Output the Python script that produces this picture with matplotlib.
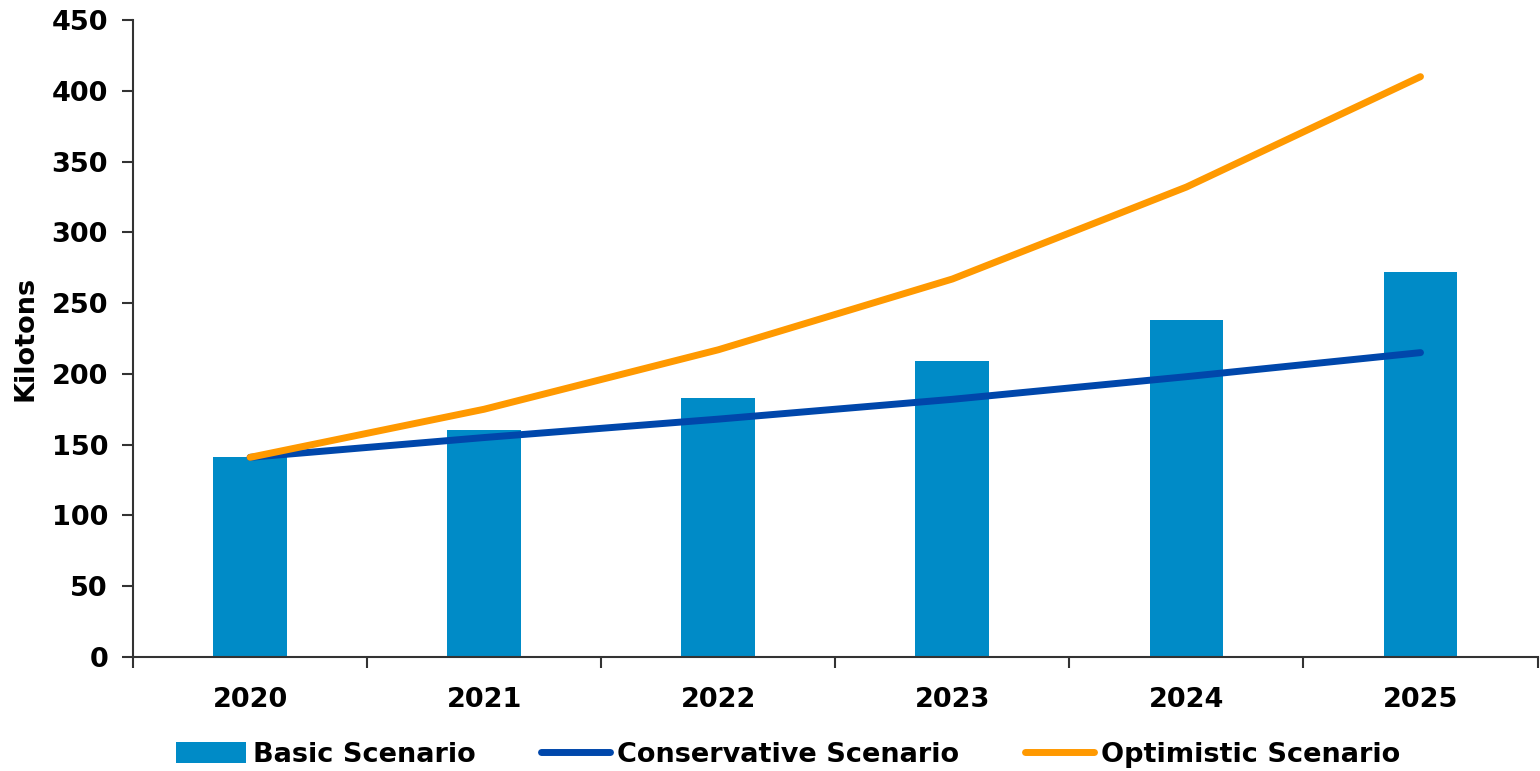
import matplotlib
matplotlib.use("Agg")
import matplotlib.pyplot as plt
import numpy as np

years = ["2020", "2021", "2022", "2023", "2024", "2025"]
basic = [141, 160, 183, 209, 238, 272]
conservative = [141, 155, 168, 182, 198, 215]
optimistic = [141, 175, 217, 267, 332, 410]
yticks = [0, 50, 100, 150, 200, 250, 300, 350, 400, 450]

plt.rcParams['font.family'] = ['DejaVu Sans']
plt.rcParams['font.weight'] = 'bold'

fig = plt.figure(figsize=(15.4, 7.71), dpi=100)
ax = fig.add_axes([0.0864, 0.148, 0.912, 0.826])

x = np.arange(len(years))
b = ax.bar(x, basic, width=0.315, color='#008BC7', label='Basic Scenario', zorder=2)
l1, = ax.plot(x, conservative, color='#0047AB', lw=5, solid_capstyle='round', label='Conservative Scenario', zorder=3)
l2, = ax.plot(x, optimistic, color='#FF9900', lw=5, solid_capstyle='round', label='Optimistic Scenario', zorder=4)

ax.set_xlim(-0.5, 5.5)
ax.set_ylim(0, 450)
ax.set_yticks(yticks)
ax.set_yticklabels([str(v) for v in yticks], fontsize=19.5, fontweight='bold')
ax.set_xticks(x)
ax.set_xticklabels(years, fontsize=19.5, fontweight='bold')
ax.tick_params(axis='x', which='major', length=0, pad=22)
ax.set_xticks(np.arange(-0.5, 6.0, 1.0), minor=True)
ax.tick_params(axis='x', which='minor', length=8, width=1.5, color='#333333', direction='out')
ax.tick_params(axis='y', length=8, width=1.5, color='#333333', pad=10)

for s in ['top', 'right']:
    ax.spines[s].set_visible(False)
for s in ['left', 'bottom']:
    ax.spines[s].set_linewidth(1.5)
    ax.spines[s].set_color('#333333')

ax.set_ylabel('Kilotons', fontsize=19.5, fontweight='bold')
ax.yaxis.set_label_coords(-0.067, 0.5)

leg = fig.legend(handles=[b, l1, l2], labels=['Basic Scenario', 'Conservative Scenario', 'Optimistic Scenario'],
                 loc='center', bbox_to_anchor=(0.512, 0.021), ncol=3, frameon=False,
                 prop={'size': 19.5, 'weight': 'bold'}, handlelength=2.55, handleheight=0.8,
                 columnspacing=2.4, handletextpad=0.28)

fig.savefig('out.png', dpi=100)
